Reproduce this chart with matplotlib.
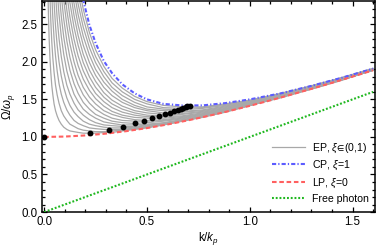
import numpy as np
import matplotlib
matplotlib.use('Agg')
import matplotlib.pyplot as plt
from matplotlib.ticker import MultipleLocator, FormatStrFormatter

plt.rcParams['font.family'] = ['Liberation Sans', 'DejaVu Sans']
plt.rcParams['mathtext.fontset'] = 'custom'
plt.rcParams['mathtext.rm'] = 'Liberation Sans'
plt.rcParams['mathtext.it'] = 'Liberation Sans:italic'
plt.rcParams['mathtext.fallback'] = 'stixsans'
plt.rcParams['font.size'] = 8.3

# common k grid (k/k_p) the curves were read on
k_grid = [0.018, 0.021, 0.024, 0.028, 0.032, 0.037, 0.042, 0.048, 0.055, 0.063,
          0.072, 0.083, 0.095, 0.11, 0.125, 0.145, 0.165, 0.19, 0.22, 0.25,
          0.29, 0.33, 0.38, 0.44, 0.5, 0.58, 0.67, 0.77, 0.88, 1.0,
          1.15, 1.3, 1.45, 1.6]

# EP curves, xi = 0.10 ... 0.95, Omega/omega_p (values end at k=1.6, start where they enter the plot)
ep_w = [
    [2.95, 2.58, 2.31, 2.05, 1.86, 1.68, 1.56, 1.44, 1.35, 1.28, 1.22, 1.17, 1.13, 1.10, 1.08, 1.07, 1.06,
     1.05, 1.05, 1.05, 1.06, 1.06, 1.08, 1.10, 1.12, 1.16, 1.21, 1.26, 1.33, 1.42, 1.52, 1.64, 1.76, 1.89],
    [2.86, 2.55, 2.26, 2.05, 1.86, 1.69, 1.56, 1.45, 1.35, 1.28, 1.22, 1.17, 1.14, 1.11, 1.09, 1.08, 1.07,
     1.07, 1.08, 1.09, 1.11, 1.13, 1.16, 1.21, 1.27, 1.33, 1.42, 1.53, 1.64, 1.76, 1.89],
    [2.88, 2.58, 2.31, 2.08, 1.88, 1.71, 1.57, 1.46, 1.36, 1.29, 1.22, 1.18, 1.15, 1.12, 1.11, 1.10, 1.10,
     1.10, 1.12, 1.14, 1.17, 1.21, 1.27, 1.34, 1.42, 1.53, 1.64, 1.76, 1.89],
    [3.14, 2.79, 2.48, 2.22, 2.00, 1.81, 1.66, 1.52, 1.42, 1.33, 1.27, 1.21, 1.17, 1.15, 1.13, 1.12, 1.12,
     1.13, 1.15, 1.18, 1.22, 1.27, 1.34, 1.42, 1.53, 1.64, 1.76, 1.89],
    [2.91, 2.58, 2.31, 2.07, 1.87, 1.69, 1.57, 1.45, 1.36, 1.29, 1.23, 1.19, 1.16, 1.15, 1.14, 1.14, 1.16,
     1.18, 1.22, 1.28, 1.34, 1.42, 1.53, 1.64, 1.76, 1.89],
    [2.95, 2.63, 2.34, 2.10, 1.88, 1.73, 1.57, 1.47, 1.37, 1.30, 1.25, 1.20, 1.18, 1.16, 1.16, 1.17, 1.19,
     1.23, 1.28, 1.35, 1.42, 1.53, 1.65, 1.77, 1.89],
    [2.95, 2.61, 2.33, 2.08, 1.89, 1.71, 1.58, 1.46, 1.37, 1.30, 1.25, 1.21, 1.19, 1.18, 1.19, 1.21, 1.24,
     1.29, 1.35, 1.43, 1.53, 1.65, 1.77, 1.89],
    [2.89, 2.57, 2.28, 2.06, 1.85, 1.70, 1.56, 1.45, 1.37, 1.30, 1.25, 1.22, 1.21, 1.21, 1.22, 1.25, 1.30,
     1.36, 1.43, 1.54, 1.65, 1.77, 1.89],
    [2.82, 2.49, 2.24, 2.00, 1.82, 1.66, 1.53, 1.44, 1.35, 1.30, 1.26, 1.23, 1.22, 1.23, 1.26, 1.30, 1.36,
     1.44, 1.54, 1.65, 1.77, 1.89],
    [3.06, 2.69, 2.42, 2.15, 1.95, 1.77, 1.62, 1.51, 1.41, 1.34, 1.29, 1.26, 1.25, 1.25, 1.27, 1.31, 1.37,
     1.44, 1.54, 1.65, 1.77, 1.89],
    [2.91, 2.60, 2.30, 2.08, 1.88, 1.71, 1.58, 1.47, 1.39, 1.33, 1.29, 1.27, 1.27, 1.28, 1.32, 1.37, 1.45,
     1.55, 1.66, 1.77, 1.90],
    [3.12, 2.79, 2.46, 2.22, 1.99, 1.80, 1.66, 1.53, 1.44, 1.37, 1.32, 1.29, 1.28, 1.30, 1.33, 1.38, 1.45,
     1.55, 1.66, 1.78, 1.90],
    [2.98, 2.62, 2.35, 2.10, 1.89, 1.74, 1.59, 1.49, 1.41, 1.35, 1.32, 1.30, 1.31, 1.34, 1.39, 1.46, 1.55,
     1.66, 1.78, 1.90],
    [3.16, 2.78, 2.49, 2.22, 1.99, 1.82, 1.66, 1.55, 1.46, 1.39, 1.35, 1.32, 1.33, 1.35, 1.40, 1.46, 1.56,
     1.67, 1.78, 1.90],
    [2.94, 2.63, 2.34, 2.09, 1.90, 1.73, 1.61, 1.50, 1.42, 1.37, 1.35, 1.34, 1.36, 1.41, 1.47, 1.56, 1.67,
     1.78, 1.90],
    [3.10, 2.77, 2.46, 2.19, 1.99, 1.80, 1.66, 1.55, 1.46, 1.40, 1.37, 1.36, 1.38, 1.42, 1.48, 1.57, 1.67,
     1.79, 1.91],
    [2.91, 2.58, 2.29, 2.07, 1.87, 1.72, 1.60, 1.50, 1.44, 1.39, 1.38, 1.39, 1.43, 1.48, 1.57, 1.68, 1.79,
     1.91],
    [3.05, 2.70, 2.39, 2.16, 1.94, 1.78, 1.65, 1.54, 1.47, 1.42, 1.40, 1.40, 1.44, 1.49, 1.58, 1.68, 1.79,
     1.91],
]

# CP (xi = 1)
cp_w = [3.20, 2.82, 2.49, 2.25, 2.01, 1.85, 1.70, 1.58, 1.50, 1.44, 1.42, 1.42, 1.45, 1.50, 1.58, 1.68,
        1.79, 1.91]

# LP (xi = 0)
lp_k = [0, 0.1, 0.2, 0.3, 0.4, 0.5, 0.6, 0.7, 0.8, 0.9, 1.0, 1.1, 1.2, 1.3, 1.4, 1.5, 1.6]
lp_w = [1.000, 1.005, 1.020, 1.044, 1.077, 1.118, 1.166, 1.221, 1.281, 1.345, 1.414, 1.487, 1.562,
        1.640, 1.720, 1.803, 1.887]

# free photon
fp_k = [0, 1.6]
fp_w = [0, 1.6]

# minima of the EP curves (black dots)
dot_k = [0, 0.223, 0.316, 0.384, 0.440, 0.487, 0.526, 0.560, 0.587, 0.612, 0.633, 0.649, 0.664,
         0.676, 0.688, 0.697, 0.707]
dot_w = [1.0, 1.05, 1.093, 1.137, 1.18, 1.215, 1.248, 1.277, 1.303, 1.325, 1.345, 1.362, 1.377,
         1.39, 1.40, 1.408, 1.414]

fig = plt.figure(figsize=(3.82, 2.48), dpi=100)
ax = fig.add_axes([0.109, 0.145, 0.873, 0.851])

for i, w in enumerate(ep_w):
    ax.plot(k_grid[len(k_grid) - len(w):], w, color='#a8a8a8', lw=0.9, zorder=2,
            label=r'EP, $\xi\!\in\!$(0,1)' if i == 0 else None)
ax.plot(k_grid[len(k_grid) - len(cp_w):], cp_w, color='#5c5cff', lw=1.5,
        linestyle=(0, (2, 1, 0.6, 1)), zorder=3, label=r'CP, $\xi$=1')
ax.plot(lp_k, lp_w, color='#ff6060', lw=1.5, linestyle=(0, (2.2, 1.3)), zorder=3, label=r'LP, $\xi$=0')
ax.plot(fp_k, fp_w, color='#1fb81f', lw=1.5, linestyle=(0, (0.9, 0.9)), zorder=3, label='Free photon')
ax.plot(dot_k, dot_w, 'o', color='black', ms=3.2, zorder=4)

ax.set_xlim(-0.0125, 1.61)
ax.set_ylim(0, 2.81)
ax.xaxis.set_major_locator(MultipleLocator(0.5))
ax.xaxis.set_minor_locator(MultipleLocator(0.1))
ax.yaxis.set_major_locator(MultipleLocator(0.5))
ax.yaxis.set_minor_locator(MultipleLocator(0.1))
ax.xaxis.set_major_formatter(FormatStrFormatter('%.1f'))
ax.yaxis.set_major_formatter(FormatStrFormatter('%.1f'))
ax.tick_params(which='both', direction='in', top=True, right=True, width=0.9, pad=3)
ax.tick_params(which='major', length=3.5)
ax.tick_params(which='minor', length=2)
for s in ax.spines.values():
    s.set_linewidth(1.1)

ax.set_xlabel(r'k/$k_p$', labelpad=1)
ax.set_ylabel(r'$\mathrm{\Omega}/\omega_p$', labelpad=3)

ax.legend(loc='lower right', bbox_to_anchor=(0.98, 0.038), frameon=False, fontsize=7.6,
          handlelength=3.1, handletextpad=0.66, labelspacing=0.4, borderaxespad=0, borderpad=0)

fig.savefig('out.png', dpi=100)
